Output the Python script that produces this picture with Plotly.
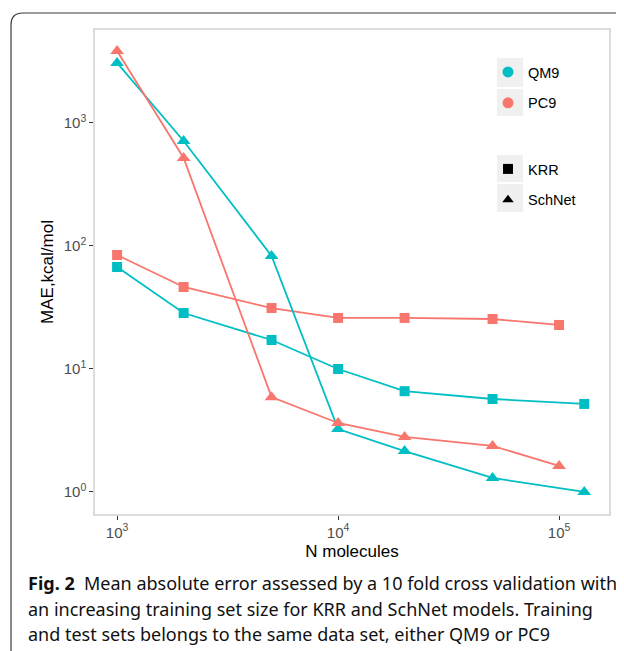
import plotly.graph_objects as go

# ---------------- data ----------------
n_qm9 = [1000, 2000, 5000, 10000, 20000, 50000, 130000]
n_pc9 = [1000, 2000, 5000, 10000, 20000, 50000, 100000]

qm9_krr = [67.5, 28.5, 17.2, 10.0, 6.6, 5.7, 5.2]
pc9_krr = [84.5, 46.4, 31.3, 26.0, 26.0, 25.5, 22.8]
qm9_schnet = [3080, 714, 83, 3.25, 2.15, 1.3, 1.0]
pc9_schnet = [3850, 519, 5.9, 3.64, 2.8, 2.37, 1.63]

x_tickvals = [1000, 10000, 100000]
x_ticktext = ["10<sup>3</sup>", "10<sup>4</sup>", "10<sup>5</sup>"]
y_tickvals = [1, 10, 100, 1000]
y_ticktext = ["10<sup>0</sup>", "10<sup>1</sup>", "10<sup>2</sup>", "10<sup>3</sup>"]

datasets = ["QM9", "PC9"]
models = ["KRR", "SchNet"]
caption_lines = [
    "<b>Fig. 2</b>  Mean absolute error assessed by a 10 fold cross validation with",
    "an increasing training set size for KRR and SchNet models. Training",
    "and test sets belongs to the same data set, either QM9 or PC9",
]

# ---------------- styling ----------------
TEAL = "#00BFC4"
SALMON = "#F8766D"
OFF = 8                      # page body margin
W, H = 624 - OFF, 651 - OFF
L, T = 95 - OFF, 30 - OFF
R, B = W - (609 - OFF), H - (514 - OFF)
PW, PH = W - L - R, H - T - B


def px(x):
    """reference pixel x -> paper"""
    return (x - OFF - L) / PW


def py(y):
    """reference pixel y -> paper"""
    return (H - B - (y - OFF)) / PH


fig = go.Figure()

series = [
    (n_qm9, qm9_krr, TEAL, "square", 10),
    (n_pc9, pc9_krr, SALMON, "square", 10),
    (n_qm9, qm9_schnet, TEAL, "triangle-up", 12),
    (n_pc9, pc9_schnet, SALMON, "triangle-up", 12),
]
for xs, ys, col, sym, size in series:
    fig.add_trace(go.Scatter(
        x=xs, y=ys, mode="lines+markers",
        line=dict(color=col, width=1.8),
        marker=dict(color=col, symbol=sym, size=size),
        showlegend=False, hoverinfo="skip",
    ))

# legend entries
for name, col in zip(datasets, [TEAL, SALMON]):
    fig.add_trace(go.Scatter(
        x=[None], y=[None], mode="markers", name=name,
        marker=dict(color=col, symbol="circle", size=11),
        legend="legend", legendgroup=name,
    ))
for name, sym in zip(models, ["square", "triangle-up"]):
    fig.add_trace(go.Scatter(
        x=[None], y=[None], mode="markers", name=name,
        marker=dict(color="black", symbol=sym, size=10),
        legend="legend2", legendgroup=name,
    ))

tickfont = dict(family="Liberation Sans, Arial, sans-serif", size=15, color="#4D4D4D")
axis_common = dict(
    type="log", showgrid=False, zeroline=False,
    showline=True, mirror=True, linecolor="#DCDCDC", linewidth=1.5,
    ticks="outside", ticklen=4, tickwidth=1.2, tickcolor="#333333",
    tickfont=tickfont,
)

fig.update_layout(
    width=W, height=H,
    margin=dict(l=L, r=R, t=T, b=B),
    paper_bgcolor="white", plot_bgcolor="white",
    font=dict(family="Liberation Sans, Arial, sans-serif", color="black"),
    xaxis=dict(
        range=[2.9, 5.226], tickvals=x_tickvals, ticktext=x_ticktext,
        title=dict(text="N molecules", font=dict(size=17, color="black"), standoff=5),
        **axis_common,
    ),
    yaxis=dict(
        range=[-0.179, 3.756], tickvals=y_tickvals, ticktext=y_ticktext,
        title=dict(text="MAE,kcal/mol", font=dict(size=17, color="black"), standoff=6),
        **axis_common,
    ),
    legend=dict(
        x=px(488), y=py(56), xanchor="left", yanchor="top",
        bgcolor="rgba(0,0,0,0)", font=dict(size=14.5, color="black"),
        tracegroupgap=9, itemwidth=30,
    ),
    legend2=dict(
        x=px(488), y=py(153), xanchor="left", yanchor="top",
        bgcolor="rgba(0,0,0,0)", font=dict(size=14.5, color="black"),
        tracegroupgap=9, itemwidth=30,
    ),
)

# grey legend key backgrounds
for y0, y1 in [(58, 87), (89, 116), (155, 182), (184, 212)]:
    fig.add_shape(type="rect", xref="paper", yref="paper",
                  x0=px(497), x1=px(523), y0=py(y1), y1=py(y0),
                  fillcolor="#F0F0F0", line=dict(width=0), layer="above")

# outer rounded frame
x0, ytop, r = 11, 13, 12
path = (f"M {px(x0)},{py(H + OFF + 10)} L {px(x0)},{py(ytop + r)} "
        f"Q {px(x0)},{py(ytop)} {px(x0 + r)},{py(ytop)} L {px(W + OFF + 10)},{py(ytop)}")
fig.add_shape(type="path", xref="paper", yref="paper", path=path,
              line=dict(color="#3A3A3A", width=1.2))

# caption
for i, line in enumerate(caption_lines):
    fig.add_annotation(
        xref="paper", yref="paper", x=px(26), y=py(583 + 25.5 * i),
        xanchor="left", yanchor="middle", showarrow=False, align="left",
        text=line, font=dict(family="Noto Sans, sans-serif", size=18, color="#111111"),
    )

fig.write_html("out.html")
